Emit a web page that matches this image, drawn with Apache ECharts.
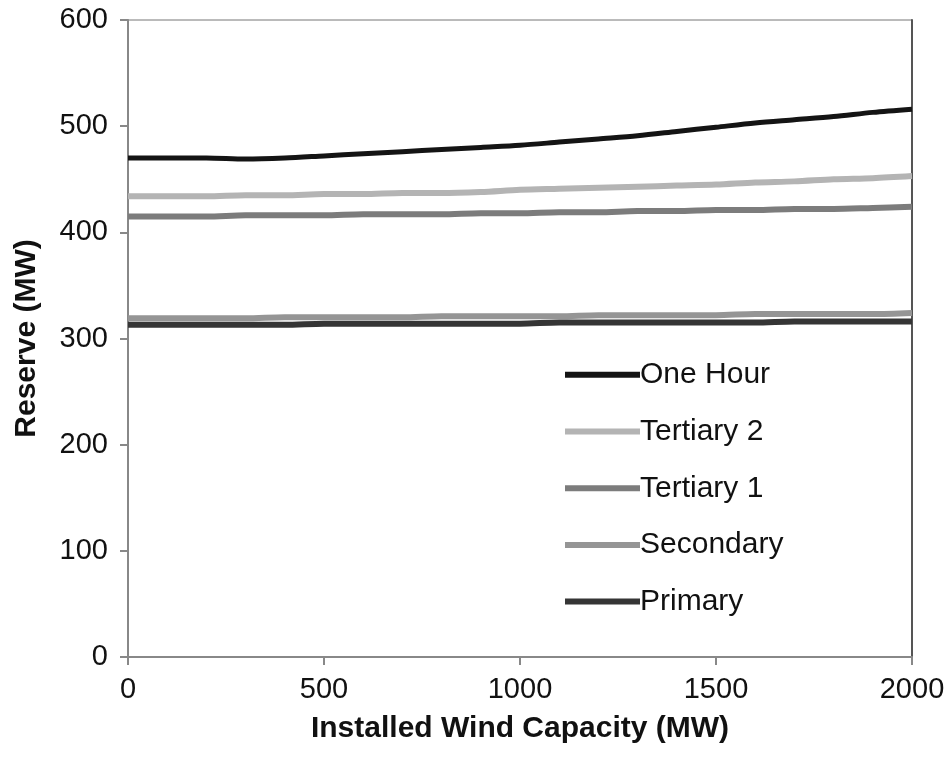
<!DOCTYPE html>
<html>
<head>
    <title>Reserve vs Installed Wind Capacity</title>
    <script src="https://cdn.jsdelivr.net/npm/echarts@6.0.0/dist/echarts.min.js"></script>
    <style>
        html, body { margin: 0; padding: 0; background: #fff; }
        #chartContainer { width: 949px; height: 757px; }
    </style>
</head>
<body>
    <div id="chartContainer"></div>
    <script>
        // installed wind capacity (MW)
        const capacity = [0, 100, 200, 300, 400, 500, 600, 700, 800, 900, 1000,
                          1100, 1200, 1300, 1400, 1500, 1600, 1700, 1800, 1900, 2000];

        // reserve values (MW)
        const oneHour   = [470, 470, 470, 469, 470, 472, 474, 476, 478, 480, 482,
                           485, 488, 491, 495, 499, 503, 506, 509, 513, 516];
        const tertiary2 = [434, 434, 434, 435, 435, 436, 436, 437, 437, 438, 440,
                           441, 442, 443, 444, 445, 447, 448, 450, 451, 453];
        const tertiary1 = [415, 415, 415, 416, 416, 416, 417, 417, 417, 418, 418,
                           419, 419, 420, 420, 421, 421, 422, 422, 423, 424];
        const secondary = [319, 319, 319, 319, 320, 320, 320, 320, 321, 321, 321,
                           321, 322, 322, 322, 322, 323, 323, 323, 323, 324];
        const primary   = [313, 313, 313, 313, 313, 314, 314, 314, 314, 314, 314,
                           315, 315, 315, 315, 315, 315, 316, 316, 316, 316];

        const chart = echarts.init(document.getElementById('chartContainer'));

        const font = 'Liberation Sans, Arial, sans-serif';

        function mkSeries(name, data, color, width) {
            return {
                name: name,
                type: 'line',
                data: capacity.map((c, i) => [c, data[i]]),
                symbol: 'none',
                smooth: 0.3,
                lineStyle: { color: color, width: width },
                itemStyle: { color: color },
                z: 3
            };
        }

        const option = {
            animation: false,
            grid: {
                left: 128, right: 37, top: 20, bottom: 100,
                outerBoundsMode: 'none',
                show: true, borderColor: '#777', borderWidth: 1
            },
            legend: {
                orient: 'vertical',
                left: 560,
                top: 344,
                icon: 'rect',
                itemWidth: 75,
                itemHeight: 6,
                itemGap: 5,
                textStyle: { fontFamily: font, fontSize: 30, lineHeight: 30, color: '#111', padding: [0, 0, 0, -5] },
                data: ['One Hour', 'Tertiary 2', 'Tertiary 1', 'Secondary', 'Primary']
            },
            xAxis: {
                type: 'value',
                min: 0, max: 2000, interval: 500,
                name: 'Installed Wind Capacity (MW)',
                nameLocation: 'middle',
                nameGap: 46,
                nameMoveOverlap: false,
                nameTextStyle: { fontFamily: font, fontSize: 30, fontWeight: 'bold', color: '#111' },
                axisLine: { lineStyle: { color: '#888', width: 2 } },
                axisTick: { show: true, length: 8, lineStyle: { color: '#888', width: 2 } },
                axisLabel: { fontFamily: font, fontSize: 29, color: '#111', margin: 8, formatter: v => String(v) },
                splitLine: { show: false }
            },
            yAxis: [{
                type: 'value',
                min: 0, max: 600, interval: 100,
                name: 'Reserve (MW)',
                nameLocation: 'middle',
                nameGap: 75,
                nameMoveOverlap: false,
                nameTextStyle: { fontFamily: font, fontSize: 30, fontWeight: 'bold', color: '#111' },
                axisLine: { show: true, lineStyle: { color: '#888', width: 2 } },
                axisTick: { show: true, length: 8, lineStyle: { color: '#888', width: 2 } },
                axisLabel: { fontFamily: font, fontSize: 29, color: '#111', margin: 20 },
                splitLine: { show: false }
            }, {
                type: 'value',
                min: 0, max: 600, interval: 100,
                position: 'right',
                axisLine: { show: true, lineStyle: { color: '#555', width: 2 } },
                axisTick: { show: false },
                axisLabel: { show: false },
                splitLine: { show: false }
            }],
            series: [
                mkSeries('One Hour', oneHour, '#141414', 5),
                mkSeries('Tertiary 2', tertiary2, '#b4b4b4', 6),
                mkSeries('Tertiary 1', tertiary1, '#7c7c7c', 6),
                mkSeries('Secondary', secondary, '#959595', 6),
                mkSeries('Primary', primary, '#353535', 6)
            ]
        };

        chart.setOption(option);
    </script>
</body>
</html>
